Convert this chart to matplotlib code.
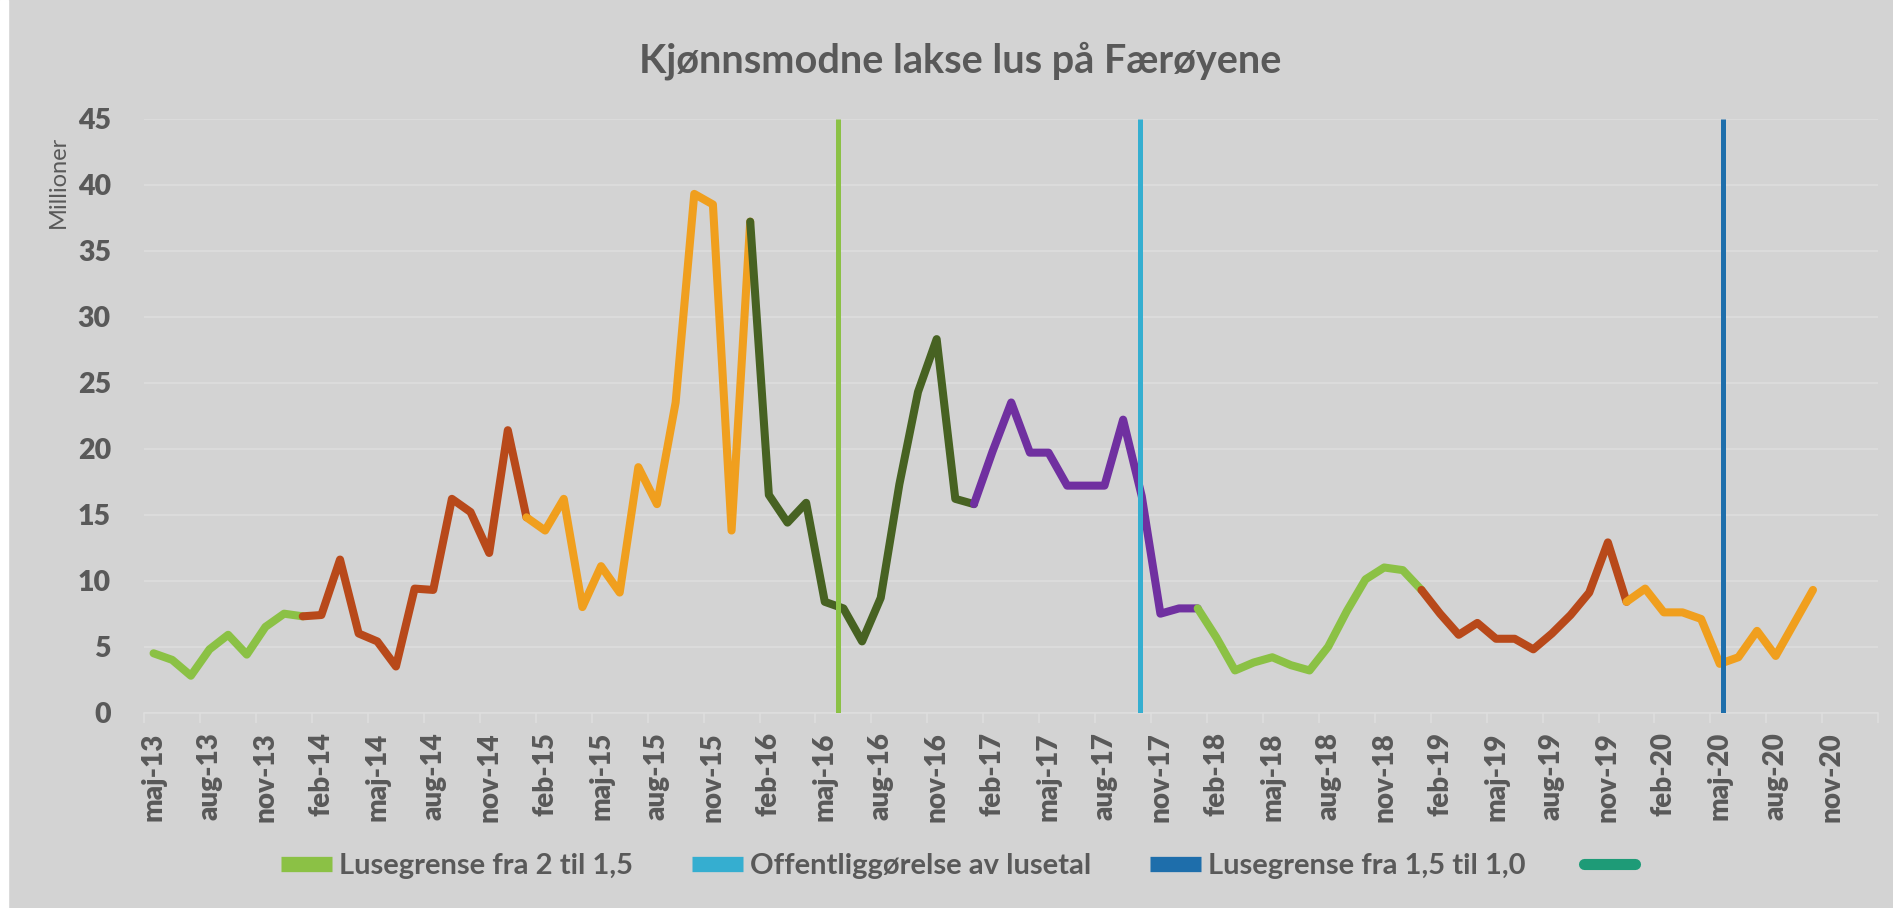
import numpy as np
import matplotlib
matplotlib.use("Agg")
import matplotlib.pyplot as plt
from matplotlib.lines import Line2D
from matplotlib.patches import Rectangle

plt.rcParams['font.family'] = ['Lato', 'DejaVu Sans']

# ---- DATA -------------------------------------------------------------------
# Kjønnsmodne lakselus (millioner), en verdi per måned fra maj-13 til okt-20
values = [
    4.5, 4.0, 2.8, 4.8, 5.9, 4.4, 6.5, 7.5, 7.3, 7.4,
    11.6, 6.0, 5.4, 3.5, 9.4, 9.3, 16.2, 15.2, 12.1, 21.4,
    14.8, 13.8, 16.2, 8.0, 11.1, 9.1, 18.6, 15.8, 23.5, 39.3,
    38.5, 13.8, 37.2, 16.5, 14.4, 15.9, 8.4, 7.9, 5.4, 8.7,
    17.3, 24.3, 28.3, 16.2, 15.8, 19.8, 23.5, 19.7, 19.7, 17.2,
    17.2, 17.2, 22.2, 16.4, 7.5, 7.9, 7.9, 5.7, 3.2, 3.8,
    4.2, 3.6, 3.2, 5.0, 7.7, 10.1, 11.0, 10.8, 9.3, 7.5,
    5.9, 6.8, 5.6, 5.6, 4.8, 6.0, 7.4, 9.1, 12.9, 8.4,
    9.4, 7.6, 7.6, 7.1, 3.7, 4.2, 6.2, 4.3, 6.8, 9.3,
]

# fargede perioder: (fra indeks, til indeks)
segments = [(0, 8), (8, 20), (20, 32), (32, 44), (44, 56), (56, 68), (68, 79), (79, 89)]
seg_colors = ["#8BC145", "#B8491A", "#F09F1E", "#476222",
              "#7030A0", "#8BC145", "#B8491A", "#F09F1E"]

# hendelser (posisjon på månedsaksen)
events = [36.7, 52.9, 84.15]
event_labels = ["Lusegrense fra 2 til 1,5", "Offentliggørelse av lusetal",
                "Lusegrense fra 1,5 til 1,0"]
event_colors = ["#8BC145", "#35AED0", "#1E6EAB"]

month_names = ["jan", "feb", "mar", "apr", "maj", "jun",
               "jul", "aug", "sep", "okt", "nov", "dec"]
start_month, start_year = 5, 13
n_months = 93          # kategorier på aksen (maj-13 .. jan-21)

TITLE = "Kjønnsmodne lakse lus på Færøyene"
GREY = "#595959"
BG = "#D3D3D3"
GRID = "#DEDEDE"
# -----------------------------------------------------------------------------

fig = plt.figure(figsize=(18.93, 9.08), dpi=100)
fig.patch.set_facecolor(BG)
fig.patches.append(Rectangle((0, 0), 8 / 1893, 1, transform=fig.transFigure,
                             color="white", zorder=-10))

ax = fig.add_axes([0.0762, 0.2151, 0.9922 - 0.0762, 0.8693 - 0.2151])
ax.set_facecolor(BG)

x = np.arange(len(values))
vals = np.array(values)
for (s, e), c in zip(segments, seg_colors):
    ax.plot(x[s:e + 1], vals[s:e + 1], color=c, lw=5.8,
            solid_capstyle="round", solid_joinstyle="round", zorder=3)

for pos, c in zip(events, event_colors):
    ax.plot([pos, pos], [0, 45], color=c, lw=3.6, solid_capstyle="butt", zorder=4)

ax.set_xlim(-0.5, n_months - 0.5)
ax.set_ylim(0, 45)

# y-akse
ax.set_yticks(np.arange(0, 46, 5))
ax.yaxis.grid(True, color=GRID, lw=1.1)
ax.set_axisbelow(True)
ax.tick_params(axis="y", length=0, pad=24, labelsize=20.5, labelcolor=GREY)
for lab in ax.get_yticklabels():
    lab.set_fontweight("heavy")

# x-akse: streker mellom kategoriene, etiketter hver 3. måned
ax.set_xticks(np.arange(-0.5, n_months, 3))
ax.set_xticklabels([])
ax.tick_params(axis="x", which="major", length=7, width=1.1, color=GRID)
label_pos = np.arange(0, n_months - 2, 3)
labels = []
for i in label_pos:
    m = (start_month - 1 + i) % 12
    y = start_year + (start_month - 1 + i) // 12
    labels.append(f"{month_names[m]}-{y}")
ax.set_xticks(label_pos, minor=True)
ax.set_xticklabels(labels, minor=True, rotation=90, fontsize=20,
                   fontweight="heavy", color=GREY)
ax.tick_params(axis="x", which="minor", length=0, pad=14)

for sp in ["top", "right", "left"]:
    ax.spines[sp].set_visible(False)
ax.spines["bottom"].set_color(GRID)
ax.spines["bottom"].set_linewidth(1.1)

fig.text(960 / 1893, 1 - 61 / 908, TITLE, ha="center", va="center",
         fontsize=28.5, fontweight="bold", color=GREY)
fig.text(58 / 1893, 1 - 182 / 908, "Millioner", rotation=90, ha="center",
         va="center", fontsize=17, color=GREY)

handles = [Line2D([0], [0], color=c, lw=11, solid_capstyle="butt") for c in event_colors]
handles.append(Line2D([0], [0], color="#1E9B77", lw=8, solid_capstyle="round"))
leg = fig.legend(handles, event_labels + [""], loc="center",
                 bbox_to_anchor=(0.508, 1 - 866 / 908), ncol=4, frameon=False,
                 fontsize=21, handlelength=1.75, handletextpad=0.25,
                 columnspacing=2.0)
for t in leg.get_texts():
    t.set_color(GREY)
    t.set_fontweight("bold")

fig.savefig("out.png", dpi=100, facecolor=fig.get_facecolor())
